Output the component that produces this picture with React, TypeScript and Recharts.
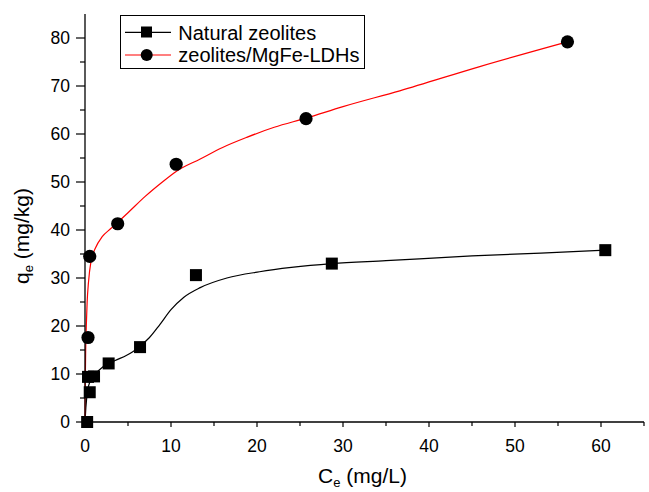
import { ComposedChart, Legend, Line, Scatter, XAxis, YAxis } from "recharts";

const FONT = "'Liberation Sans', Arial, sans-serif";

// measured points
const naturalX = [0.25, 0.55, 0.35, 1.05, 2.75, 6.4, 12.9, 28.7, 60.5];
const naturalY = [0, 6.2, 9.4, 9.5, 12.2, 15.6, 30.6, 33.0, 35.8];
const ldhX = [0.35, 0.55, 3.8, 10.6, 25.7, 56.1];
const ldhY = [17.6, 34.5, 41.3, 53.7, 63.2, 79.2];

// fitted curves
const naturalFitX = [0, 0.1, 0.3, 0.6, 1.1, 2.1, 3.5, 4.85, 5.6, 6.4, 7.5, 8.7, 10, 11.5, 13.4, 16.5, 20.3, 24, 28.7, 35, 45, 53, 60.5];
const naturalFitY = [0, 3, 6.5, 8.5, 9.8, 11.5, 12.8, 13.9, 14.7, 15.8, 17.6, 20.3, 23.4, 26.0, 28.0, 30.0, 31.3, 32.2, 33.0, 33.6, 34.6, 35.2, 35.8];
const ldhFitX = [0, 0.03, 0.08, 0.15, 0.25, 0.4, 0.7, 1.2, 2.0, 3.0, 3.8, 5.0, 7.0, 9.0, 10.6, 13.4, 16, 18.8, 22, 25.7, 30, 36.6, 46, 56.1];
const ldhFitY = [0, 8, 15, 20, 25, 29, 33.5, 36.2, 38.6, 40.3, 41.6, 43.6, 47, 50, 52.2, 54.8, 57.2, 59.3, 61.4, 63.3, 65.7, 69.0, 74.1, 79.2];

const xTicks = [0, 5, 10, 15, 20, 25, 30, 35, 40, 45, 50, 55, 60, 65];
const yTicks = [0, 5, 10, 15, 20, 25, 30, 35, 40, 45, 50, 55, 60, 65, 70, 75, 80];

const toPoints = (xs: number[], ys: number[]) => xs.map((x, i) => ({ x, y: ys[i] }));

const naturalPts = toPoints(naturalX, naturalY);
const ldhPts = toPoints(ldhX, ldhY);
const naturalFit = toPoints(naturalFitX, naturalFitY);
const ldhFit = toPoints(ldhFitX, ldhFitY);

function XTick(props: any) {
  const { x, y, payload } = props;
  const major = payload.value % 10 === 0;
  return (
    <g>
      <line x1={x} x2={x} y1={y} y2={y + (major ? 5 : 4)} stroke="#000" strokeWidth={1.2} />
      {major && (
        <text x={x} y={y + 30} textAnchor="middle" fontSize={17.5} fontFamily={FONT} fill="#000">
          {payload.value}
        </text>
      )}
    </g>
  );
}

function YTick(props: any) {
  const { x, y, payload } = props;
  const major = payload.value % 10 === 0;
  return (
    <g>
      <line x1={x} x2={x - (major ? 9 : 5)} y1={y} y2={y} stroke="#000" strokeWidth={1.2} />
      {major && (
        <text x={x - 15} y={y + 6} textAnchor="end" fontSize={17.5} fontFamily={FONT} fill="#000">
          {payload.value}
        </text>
      )}
    </g>
  );
}

const Square = (p: any) => <rect x={p.cx - 6} y={p.cy - 6} width={12} height={12} fill="#000" />;
const Dot = (p: any) => <circle cx={p.cx} cy={p.cy} r={6.6} fill="#000" />;

function LegendBox() {
  return (
    <svg width={246} height={55} style={{ display: "block" }}>
      <rect x={0.5} y={0.5} width={244} height={53} fill="#fff" stroke="#000" strokeWidth={1} />
      <line x1={5} x2={51} y1={17.3} y2={17.3} stroke="#000" strokeWidth={1.2} />
      <rect x={21} y={11.5} width={11} height={11} fill="#000" />
      <text x={58.3} y={24.5} fontSize={20} fontFamily={FONT} fill="#000">Natural zeolites</text>
      <line x1={5} x2={51} y1={40} y2={40} stroke="#ff0000" strokeWidth={1.2} />
      <circle cx={26.7} cy={40} r={6} fill="#000" />
      <text x={58.3} y={47.2} fontSize={20} fontFamily={FONT} fill="#000">zeolites/MgFe-LDHs</text>
    </svg>
  );
}

export default function App() {
  return (
    <div style={{ position: "absolute", left: 0, top: 0, width: 649, height: 492, background: "#fff" }}>
      <ComposedChart width={649} height={492} margin={{ top: 14, right: 5, bottom: 0, left: 0 }}>
        <XAxis
          type="number"
          dataKey="x"
          domain={[0, 65]}
          ticks={xTicks}
          interval={0}
          height={70}
          tickSize={0}
          tickMargin={0}
          tickLine={false}
          tick={<XTick />}
          axisLine={{ stroke: "#000", strokeWidth: 1.3 }}
          label={{
            content: (props: any) => {
              const vb = props.viewBox;
              return (
                <text x={318} y={vb.y + 61} fontSize={21} fontFamily={FONT} fill="#000">
                  C
                  <tspan fontSize={13} dy={4}>e</tspan>
                  <tspan dy={-4}> (mg/L)</tspan>
                </text>
              );
            },
          }}
        />
        <YAxis
          type="number"
          dataKey="y"
          domain={[0, 85]}
          ticks={yTicks}
          interval={0}
          width={85}
          tickSize={0}
          tickMargin={0}
          tickLine={false}
          tick={<YTick />}
          axisLine={{ stroke: "#000", strokeWidth: 1.3 }}
          label={{
            content: () => (
              <text
                x={28.5}
                y={284}
                transform="rotate(-90, 28.5, 284)"
                fontSize={21}
                fontFamily={FONT}
                fill="#000"
              >
                q
                <tspan fontSize={13} dy={4}>e</tspan>
                <tspan dy={-4}> (mg/kg)</tspan>
              </text>
            ),
          }}
        />
        <Legend
          layout="vertical"
          align="center"
          verticalAlign="middle"
          wrapperStyle={{ left: 120, top: 15, width: 246, height: 55 }}
          content={() => <LegendBox />}
        />
        <Line
          data={naturalFit}
          dataKey="y"
          type="monotone"
          stroke="#000"
          strokeWidth={1.2}
          dot={false}
          activeDot={false}
          isAnimationActive={false}
        />
        <Line
          data={ldhFit}
          dataKey="y"
          type="monotone"
          stroke="#ff0000"
          strokeWidth={1.2}
          dot={false}
          activeDot={false}
          isAnimationActive={false}
        />
        <Scatter data={naturalPts} dataKey="y" shape={Square} isAnimationActive={false} />
        <Scatter data={ldhPts} dataKey="y" shape={Dot} isAnimationActive={false} />
      </ComposedChart>
    </div>
  );
}
